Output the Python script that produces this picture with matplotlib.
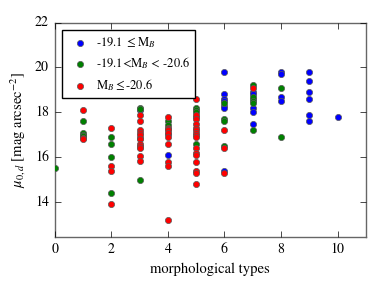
import matplotlib
matplotlib.use("Agg")
import matplotlib.pyplot as plt

# =========================
# DATA
# =========================
# faint: -19.1 <= M_B
faint_t = [4, 4, 3, 1,
           6, 6, 6, 6, 6, 6, 6,
           7, 7, 7, 7, 7, 7,
           8, 8, 8, 8,
           9, 9, 9, 9, 9, 9,
           10]
faint_mu = [17.05, 16.1, 18.1, 16.9,
            19.8, 18.8, 18.6, 18.5, 18.3, 18.2, 15.4,
            18.9, 18.8, 18.6, 18.2, 18.0, 17.5,
            19.8, 19.7, 18.7, 18.5,
            19.8, 19.4, 18.9, 18.6, 17.9, 17.6,
            17.8]

# intermediate: -19.1 < M_B < -20.6
mid_t = [0,
         1, 1, 1, 1,
         2, 2, 2, 2,
         3, 3, 3, 3, 3,
         4, 4,
         5, 5, 5, 5, 5,
         6, 6, 6, 6,
         7, 7, 7, 7, 7,
         8, 8]
mid_mu = [15.5,
          17.6, 17.1, 17.0, 16.95,
          16.9, 16.6, 16.0, 14.4,
          18.2, 18.15, 16.85, 16.45, 15.0,
          17.6, 17.45,
          18.2, 18.1, 18.0, 17.8, 16.6,
          18.4, 17.7, 17.6, 16.5,
          19.2, 18.7, 18.5, 18.4, 17.2,
          19.1, 16.9]

# bright: M_B <= -20.6
bright_t = [1, 1, 1,
            2, 2, 2, 2,
            3, 3, 3, 3, 3, 3, 3, 3, 3, 3, 3,
            4, 4, 4, 4, 4, 4, 4, 4, 4, 4,
            5, 5, 5, 5, 5, 5, 5, 5, 5, 5, 5, 5, 5, 5, 5, 5,
            6, 6, 6,
            7]
bright_mu = [18.1, 16.85, 16.8,
             17.3, 15.6, 15.4, 13.9,
             17.9, 17.6, 17.2, 17.1, 17.0, 16.8, 16.6, 16.5, 16.4, 16.05, 15.85,
             17.8, 17.3, 17.25, 17.2, 17.1, 16.9, 16.6, 15.8, 15.6, 13.2,
             18.6, 17.9, 17.7, 17.5, 17.3, 17.2, 17.1, 17.0, 16.9, 16.4, 16.2,
             16.1, 15.8, 15.4, 15.3, 14.8,
             17.2, 16.4, 15.3,
             19.1]

labels = [r"-19.1 $\leq$M$_B$",
          r"-19.1<M$_B$ < -20.6",
          r"M$_B$$\leq$-20.6"]

# =========================
# PLOT
# =========================
plt.style.use("classic")
plt.rcParams["font.family"] = "serif"
plt.rcParams["font.serif"] = ["STIXGeneral", "Liberation Serif", "DejaVu Serif"]
plt.rcParams["mathtext.fontset"] = "stix"

fig = plt.figure(figsize=(3.82, 2.86), dpi=100, facecolor="white")
ax = fig.add_axes([0.143, 0.172, 0.815, 0.749])

kw = dict(s=20, edgecolors="0.35", linewidths=0.5, zorder=3)
ax.scatter(faint_t, faint_mu, c="b", label=labels[0], **kw)
ax.scatter(mid_t, mid_mu, c="g", label=labels[1], **kw)
ax.scatter(bright_t, bright_mu, c="r", label=labels[2], **kw)

ax.set_xlim(0, 11)
ax.set_ylim(12.45, 22)
ax.set_xticks([0, 2, 4, 6, 8, 10])
ax.set_yticks([14, 16, 18, 20, 22])
ax.tick_params(labelsize=10)
for s in ax.spines.values():
    s.set_color("0.4")

ax.set_xlabel("morphological types", fontsize=10.5)
ax.set_ylabel(r"$\mu_{0,d}$ [mag arcsec$^{-2}$]", fontsize=10.5)

ax.legend(loc="upper left", scatterpoints=1, fontsize=9, frameon=True,
          borderaxespad=0.6, handletextpad=0.3, labelspacing=0.45,
          borderpad=0.4)

fig.savefig("out.png", dpi=100, facecolor="white")
